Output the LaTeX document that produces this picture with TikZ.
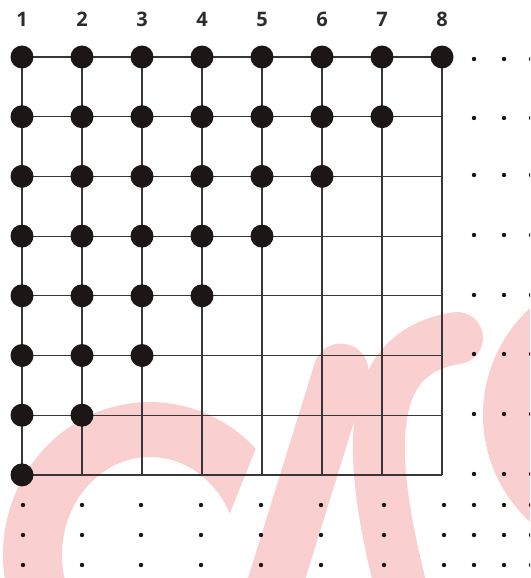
\documentclass[tikz,border=0pt]{standalone}
\usepackage{fontspec}
\setmainfont{Open Sans}
\usetikzlibrary{calc}
\definecolor{wm}{RGB}{249,207,207}
\definecolor{ink}{RGB}{28,22,22}
\definecolor{gridc}{RGB}{55,55,55}
\definecolor{numc}{RGB}{45,45,45}
\begin{document}
\begin{tikzpicture}[x=1pt,y=-1pt,
  bigdot/.style={circle,fill=ink,inner sep=0pt,minimum size=23pt},
  smalldot/.style={circle,fill=ink,inner sep=0pt,minimum size=4.4pt},
  gridline/.style={draw=gridc,line width=1.2pt},
  numlabel/.style={font=\fontsize{20}{20}\selectfont\bfseries,text=numc},
  wmstroke/.style={draw=wm,line width=55pt,line cap=round}]
\useasboundingbox (0,0) rectangle (530,578);
\begin{scope}
\clip (0,0) rectangle (530,578);
% background watermark shapes
\fill[wm] ($(150,555)+(-44:147 and 153)$) arc[start angle=-44,end angle=-340,x radius=147,y radius=153]
  -- ($(150,555)+(-340:88 and 98)$) arc[start angle=-340,end angle=-25,x radius=88,y radius=98] -- cycle;
\draw[wmstroke] (270,600) -- (341,371);
\draw[wmstroke,line width=52pt] (404,600) .. controls (362,440) and (368,352) .. (457,338);
\fill[wm] (628,415) circle[radius=145];
% small dots
\foreach \y in {59,118,175,235,295,354,414,474}
  \foreach \x in {474,504,531}
    \node[smalldot] (r\x-\y) at (\x,\y) {};
\foreach \y in {505,535,565}
  \foreach \x in {23,82,141,201,261,321,384,444,474,504,531}
    \node[smalldot] (b\x-\y) at (\x,\y) {};
\end{scope}
% grid
\foreach \c in {0,...,7}
  \draw[gridline] ({22+60*\c},57) -- ({22+60*\c},475);
\foreach \r in {0,...,7}
  \draw[gridline] (22,{57+59.7*\r}) -- (442,{57+59.7*\r});
% big dots (staircase)
\foreach \r in {1,...,8}{
  \pgfmathtruncatemacro\nmax{9-\r}
  \foreach \c in {1,...,\nmax}
    \node[bigdot] (d\r-\c) at ({22+60*(\c-1)},{57+59.7*(\r-1)}) {};
}
% column numbers
\foreach \c in {1,...,8}
  \node[numlabel] (n\c) at ({22+60*(\c-1)},19) {\c};
\end{tikzpicture}
\end{document}
